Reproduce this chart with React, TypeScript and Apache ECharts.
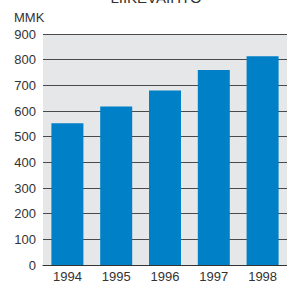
import React, { useEffect, useRef } from "react";
import * as echarts from "echarts";

const categories = ["1994", "1995", "1996", "1997", "1998"];
const values = [552, 618, 680, 760, 813];
const yTicks = { min: 0, max: 900, interval: 100 };
const titleText = "LIIKEVAIHTO";
const unitText = "MMK";

export default function App() {
  const ref = useRef<HTMLDivElement>(null);
  useEffect(() => {
    document.body.style.margin = "0";
    const chart = echarts.init(ref.current!, undefined, { renderer: "svg" });
    const font = "'Liberation Sans', Arial, sans-serif";
    chart.setOption({
      animation: false,
      grid: {
        left: 43,
        right: 0,
        top: 34,
        height: 231,
        show: true,
        backgroundColor: "#e6e7e9",
        borderWidth: 0,
      },
      graphic: [
        {
          type: "text",
          x: 156,
          y: -10,
          style: { text: titleText, fill: "#333", fontSize: 15, fontFamily: font, textAlign: "center" },
        },
        {
          type: "text",
          x: 14,
          y: 11,
          style: { text: unitText, fill: "#333", fontSize: 13, fontFamily: font },
        },
      ],
      xAxis: {
        type: "category",
        data: categories,
        axisLine: { show: true, lineStyle: { color: "#333", width: 1 } },
        axisTick: { show: false },
        axisLabel: { color: "#333", fontSize: 13, fontFamily: font, margin: 5 },
      },
      yAxis: {
        type: "value",
        min: yTicks.min,
        max: yTicks.max,
        interval: yTicks.interval,
        axisLine: { show: false },
        axisTick: { show: false },
        axisLabel: { color: "#333", fontSize: 13, fontFamily: font, margin: 7 },
        splitLine: { show: true, lineStyle: { color: "#4a4a4a", width: 1 } },
      },
      series: [
        {
          type: "bar",
          data: values,
          barWidth: 32,
          itemStyle: { color: "#0080c6" },
        },
      ],
    });
    return () => chart.dispose();
  }, []);
  return <div ref={ref} style={{ width: 287, height: 283 }} />;
}
